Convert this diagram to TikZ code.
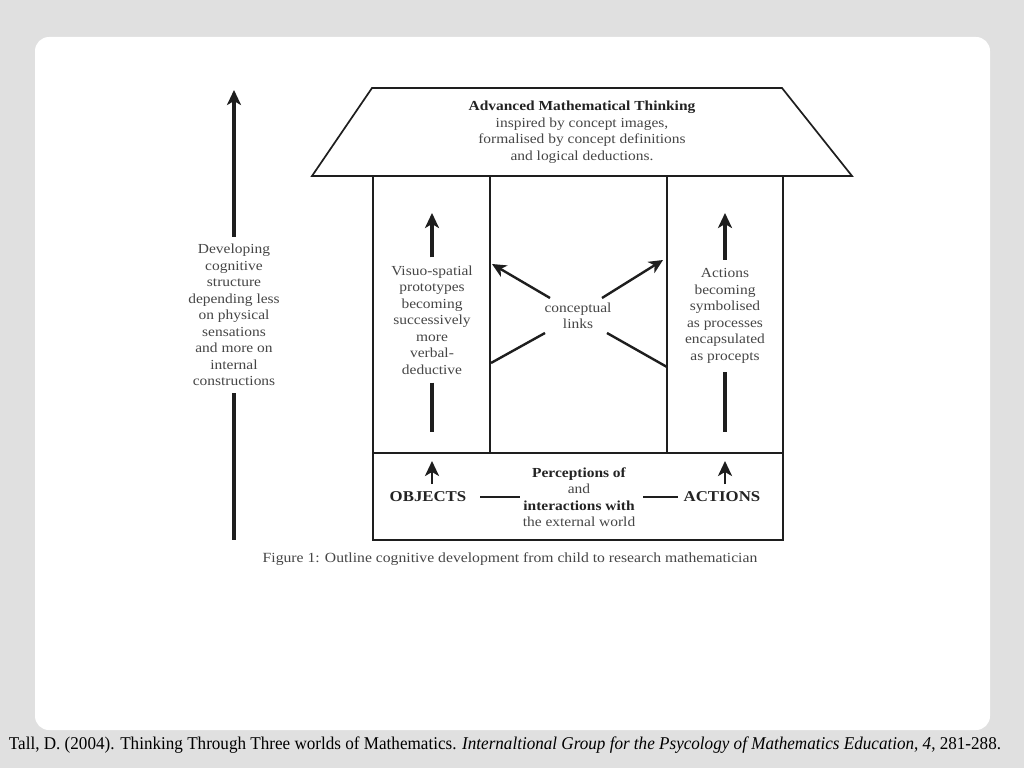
\documentclass[tikz,border=0pt]{standalone}
\usepackage{fontspec}
\setmainfont{Liberation Serif}
\newfontfamily\figfont{Liberation Serif}[FakeStretch=1.12]
\newfontfamily\citefont{Liberation Serif}[FakeStretch=0.95]
\usetikzlibrary{arrows.meta,calc}
\definecolor{slidegray}{RGB}{224, 224, 224}
\definecolor{inkline}{RGB}{30, 30, 30}
\definecolor{inktext}{RGB}{70, 70, 70}
\definecolor{inkbold}{RGB}{35, 35, 35}
\tikzset{
  wall/.style={draw=inkline, line width=1.7pt},
  shaft/.style={draw=inkline, line width=3.2pt},
  upshaft/.style={shaft, -{Stealth[length=15pt,width=14pt,inset=4pt]}},
  linkarrow/.style={draw=inkline, line width=2.4pt, -{Stealth[length=14pt,width=13pt,inset=4pt]}},
  linkline/.style={draw=inkline, line width=2.4pt},
  txt/.style={text=inktext, align=center, font=\figfont\fontsize{13.8}{16.5}\selectfont, inner sep=0pt},
}
\begin{document}
\begin{tikzpicture}[x=1pt, y=-1pt]
        \useasboundingbox (0,0) rectangle (1024,768);
        \fill [slidegray] (0,0) rectangle (1024,768);
        \fill [white, rounded corners=14pt] (35,37) rectangle (990,730);

        % roof
        \coordinate (roofTL) at (372,88);
        \coordinate (roofTR) at (782,88);
        \coordinate (roofBR) at (852,176);
        \coordinate (roofBL) at (312,176);
        \draw [wall] (roofTL) -- (roofTR) -- (roofBR) -- (roofBL) -- cycle;
        \node [txt] (amt) at (582,132)
        {{\color{inkbold}\bfseries Advanced Mathematical Thinking}\\
        inspired by concept images,\\ formalised by concept definitions\\
        and logical deductions.};

        % walls
        \draw [wall] (373,176) rectangle (490,453);
        \draw [wall] (667,176) rectangle (783,453);
        \draw [wall] (373,453) rectangle (783,540);

        % left column
        \coordinate (vistop) at (432,213);
        \coordinate (visbot) at (432,432);
        \node [txt, inner ysep=8pt] (visuo) at (432,320)
        {Visuo-spatial\\ prototypes\\ becoming\\ successively\\ more\\ verbal-\\ deductive};
        \draw [upshaft] (visuo.north) -- (vistop);
        \draw [shaft] (visuo.south) -- (visbot);

        % right column
        \coordinate (acttop) at (725,213);
        \coordinate (actbot) at (725,432);
        \node [txt, inner ysep=9pt] (actions) at (725,316)
        {Actions\\ becoming\\ symbolised\\ as processes\\ encapsulated\\ as procepts};
        \draw [upshaft] (actions.north) -- (acttop);
        \draw [shaft] (actions.south) -- (actbot);

        % conceptual links
        \node [txt] (links) at (578,316) {conceptual\\ links};
        \coordinate (linkNW) at (492,264);
        \coordinate (linkNE) at (663,260);
        \coordinate (linkSW) at (491,363);
        \coordinate (linkSE) at (667,367);
        \draw [linkarrow] ($(links.center)+(-28,-18)$) -- (linkNW);
        \draw [linkarrow] ($(links.center)+(24,-18)$) -- (linkNE);
        \draw [linkline] ($(links.center)+(-33,17)$) -- (linkSW);
        \draw [linkline] ($(links.center)+(29,17)$) -- (linkSE);

        % ground floor
        \node [txt, text=inkbold, font=\figfont\fontsize{15}{16.5}\selectfont\bfseries] (objects) at (428,497) {OBJECTS};
        \node [txt, text=inkbold, font=\figfont\fontsize{15}{16.5}\selectfont\bfseries] (actword) at (722,497) {ACTIONS};
        \node [txt] (percept) at (579,497)
        {{\color{inkbold}\bfseries Perceptions of}\\ and\\
        {\color{inkbold}\bfseries interactions with}\\ the external world};
        \coordinate (objtop) at (432,461);
        \coordinate (acwtop) at (725,461);
        \draw [upshaft, line width=2.6pt] (432,484) -- (objtop);
        \draw [upshaft, line width=2.6pt] (725,484) -- (acwtop);
        \draw [shaft, line width=2.4pt] ($(objects.east)+(14,0)$) -- ($(percept.west)+(-3,0)$);
        \draw [shaft, line width=2.4pt] ($(percept.east)+(8,0)$) -- ($(actword.west)+(-6,0)$);

        % growth arrow
        \coordinate (devtop) at (234,90);
        \coordinate (devbot) at (234,540);
        \node [txt, inner ysep=7pt] (develop) at (234,315)
        {Developing\\ cognitive\\ structure\\ depending less\\ on physical\\ sensations\\ and more on\\ internal\\ constructions};
        \draw [upshaft] (develop.north) -- (devtop);
        \draw [shaft] (develop.south) -- (devbot);

        % captions
        \node [txt, font=\figfont\fontsize{14}{15}\selectfont] (figcap) at (510,559)
        {Figure 1: Outline cognitive development from child to research mathematician};
        \node [inner sep=0pt, font=\citefont\fontsize{18}{20}\selectfont] (source) at (505,745)
        {Tall, D. (2004). Thinking Through Three worlds of Mathematics. \emph{Internaltional Group for the Psycology of Mathematics Education}, \emph{4}, 281-288.};
\end{tikzpicture}
\end{document}
